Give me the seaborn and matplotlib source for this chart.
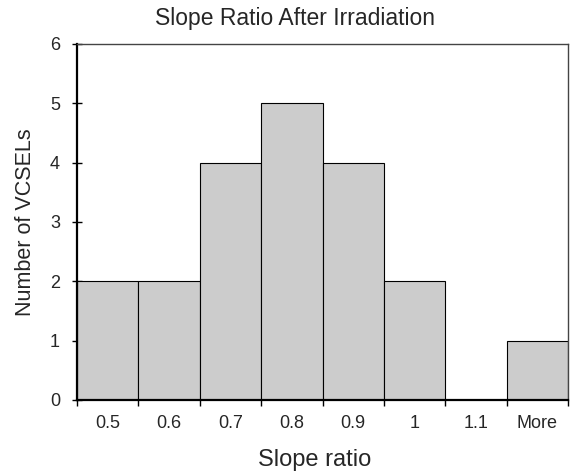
import matplotlib
matplotlib.use("Agg")
import matplotlib.pyplot as plt
import seaborn as sns
import pandas as pd
import numpy as np

categories = ["0.5", "0.6", "0.7", "0.8", "0.9", "1", "1.1", "More"]
counts = [2, 2, 4, 5, 4, 2, 0, 1]

sns.set_style("white")
plt.rcParams['font.family'] = ['Liberation Sans', 'DejaVu Sans']

df = pd.DataFrame({"bin": categories, "count": counts})

fig = plt.figure(figsize=(5.71, 4.76), dpi=100)
ax = fig.add_axes([77/571, 1-400/476, (568-77)/571, (400-44)/476])
sns.barplot(data=df, x="bin", y="count", color="#cccccc", width=1.0,
            edgecolor="black", linewidth=0.8, saturation=1, ax=ax)
for p in ax.patches:
    p.set_facecolor("#cccccc")

ax.set_xlim(-0.5, len(categories) - 0.5)
ax.set_ylim(0, 6)
ax.set_yticks(range(0, 7))
ax.set_xticks(np.arange(-0.5, len(categories), 1.0), minor=True)
ax.tick_params(axis="x", which="major", length=0, pad=11, labelsize=13)
ax.tick_params(axis="x", which="minor", length=4.5, width=1, direction="out", color="black", bottom=True)
ax.tick_params(axis="y", which="major", length=6.5, width=1, direction="inout", color="black", left=True, labelsize=13, pad=9)
for s in ax.spines.values():
    s.set_color("#444444")
    s.set_linewidth(1)
ax.spines["left"].set_linewidth(1.6)
ax.spines["bottom"].set_linewidth(1.6)
ax.spines["left"].set_color("black")
ax.spines["bottom"].set_color("black")
ax.set_xlabel("")
ax.set_ylabel("Number of VCSELs", fontsize=15.5, labelpad=10)
fig.text(315/571, 1-460/476, "Slope ratio", fontsize=17, ha="center", va="center")
fig.text(295/571, 1-18/476, "Slope Ratio After Irradiation", fontsize=16.5, ha="center", va="center")
fig.savefig("out.png", dpi=100)
